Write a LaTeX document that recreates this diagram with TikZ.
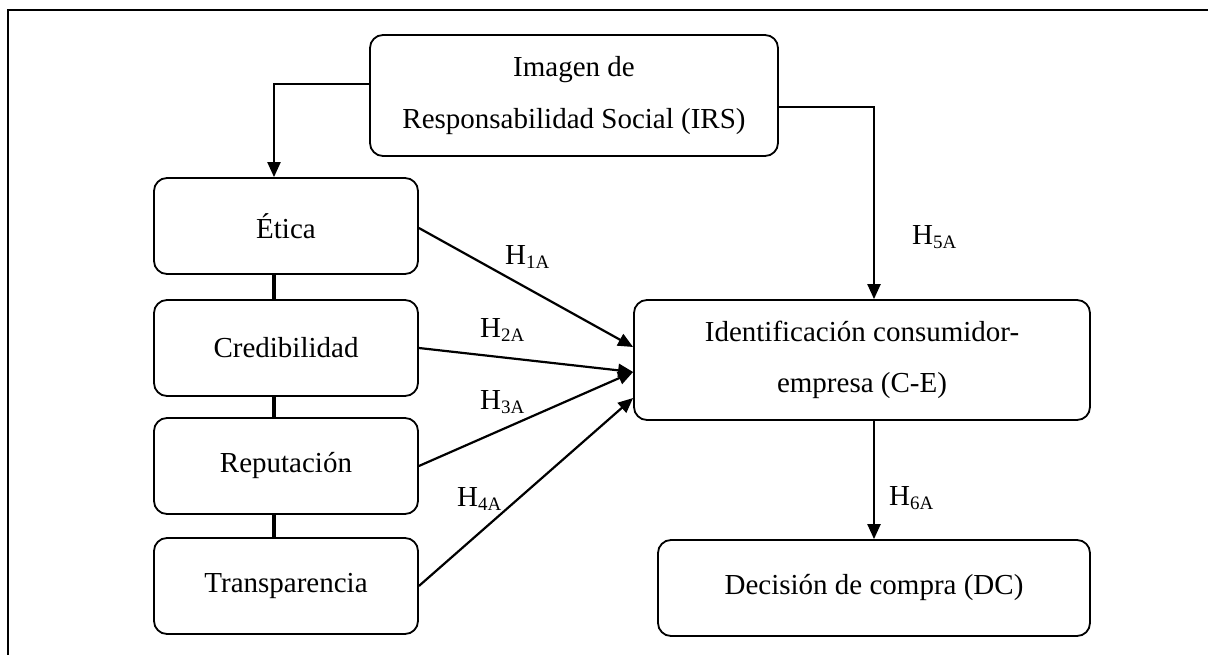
\documentclass[tikz,border=0pt]{standalone}
\usepackage{fontspec}
\setmainfont{Liberation Serif}
\usetikzlibrary{arrows.meta}
\newcommand{\hsub}[1]{H\raisebox{-4pt}{\fontsize{19}{19}\selectfont #1}}
\begin{document}
\begin{tikzpicture}[x=1pt,y=-1pt,
  box/.style={draw, line width=1.8pt, rounded corners=13pt, inner sep=0pt, align=center, font=\fontsize{29}{51}\selectfont},
  arr/.style={line width=2.2pt, -{Triangle[length=15pt,width=13pt]}},
  link/.style={line width=3.5pt},
  hyp/.style={anchor=base west, inner sep=0pt, font=\fontsize{29}{29}\selectfont}]
\useasboundingbox (0,0) rectangle (1208,655);
\draw[line width=1.6pt] (8,655) -- (8,10) -- (1208,10);
% nodes
\node[box, minimum width=408pt, minimum height=121pt, font=\fontsize{29}{52}\selectfont] (irs) at (574,95.5) {Imagen de\\Responsabilidad Social (IRS)};
\node[box, minimum width=264pt, minimum height=96pt] (etica) at (286,226) {Ética};
\node[box, minimum width=264pt, minimum height=96pt] (cred) at (286,348) {Credibilidad};
\node[box, minimum width=264pt, minimum height=96pt] (rep) at (286,466) {Reputación};
\node[box, minimum width=264pt, minimum height=96pt] (trans) at (286,586) {Transparencia};
\node[box, minimum width=456pt, minimum height=120pt] (ce) at (862,360) {Identificación consumidor-\\empresa (C-E)};
\node[box, minimum width=432pt, minimum height=96pt] (dc) at (874,588) {Decisión de compra (DC)};
% labels
\node[hyp] (h1) at (505,265) {\hsub{1A}};
\node[hyp] (h2) at (480,337) {\hsub{2A}};
\node[hyp] (h3) at (480,409) {\hsub{3A}};
\node[hyp] (h4) at (457,506) {\hsub{4A}};
\node[hyp] (h5) at (912,245) {\hsub{5A}};
\node[hyp] (h6) at (889,505) {\hsub{6A}};
% connectors
\draw[arr] ([yshift=11.5pt]irs.west) -| ([xshift=-12pt]etica.north);
\draw[arr] ([yshift=-11.5pt]irs.east) -| ([xshift=12pt]ce.north);
\draw[arr] ([xshift=12pt]ce.south) -- (dc.north);
\draw[link] ([xshift=-12pt]etica.south) -- ([xshift=-12pt]cred.north);
\draw[link] ([xshift=-12pt]cred.south) -- ([xshift=-12pt]rep.north);
\draw[link] ([xshift=-12pt]rep.south) -- ([xshift=-12pt]trans.north);
\draw[arr] ([yshift=-2pt]etica.east) -- ([yshift=13pt]ce.west);
\draw[arr] (cred.east) -- ([yshift=-12pt]ce.west);
\draw[arr] (rep.east) -- ([yshift=-12pt]ce.west);
\draw[arr] (trans.east) -- ([yshift=-38pt]ce.west);
\end{tikzpicture}
\end{document}
